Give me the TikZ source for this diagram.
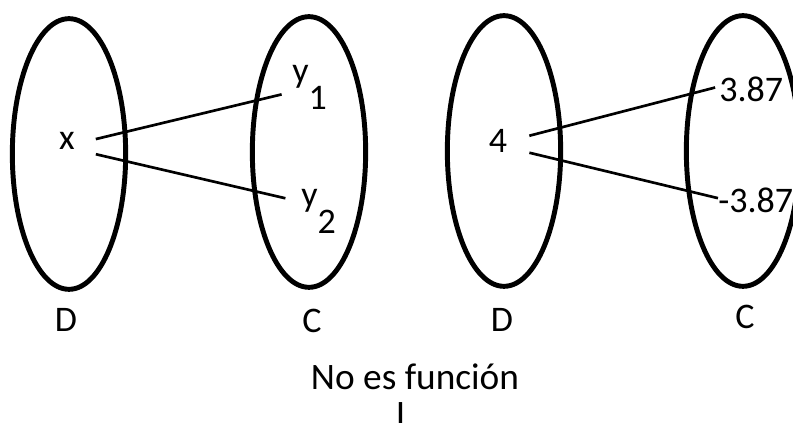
\documentclass[tikz,border=0pt]{standalone}
\usepackage{fontspec}
\setmainfont{Carlito}
\usetikzlibrary{shapes.geometric}
\newcommand\baja[1]{\raisebox{-0.75em}{#1}}
\tikzset{
  conj/.style = {draw, ellipse, line width=3.7pt, inner sep=0pt,
                 minimum width=85pt, minimum height=203pt},
  elem/.style = {inner sep=0pt, font=\fontsize{27}{32}\selectfont},
  lbl/.style  = {elem},
  ttl/.style  = {inner sep=0pt, font=\fontsize{28}{34}\selectfont},
  lnk/.style  = {line width=2pt},
}
\begin{document}
\begin{tikzpicture}[x=0.75pt,y=-0.75pt]
\useasboundingbox (0,0) rectangle (793,423);

% conjuntos
\node[conj] (D1) at (69,154) {};
\node[conj] (C1) at (309,152) {};
\node[conj] (D2) at (504,151) {};
\node[conj] (C2) at (743,151) {};

% elementos
\node[elem, anchor=base] (x) at (67,150) {x};
\node[elem, anchor=base west] (y1) at (292,83) {y\baja{1}};
\node[elem, anchor=base west] (y2) at (301,207) {y\baja{2}};
\node[elem, anchor=base] (cuatro) at (498,153) {4};
\node[elem, anchor=base west] (pos) at (719,102) {3.87};
\node[elem, anchor=base west] (neg) at (718,213) {-3.87};

% etiquetas
\node[lbl, anchor=base] (lD1) at (66,332) {D};
\node[lbl, anchor=base] (lC1) at (312,333) {C};
\node[lbl, anchor=base] (lD2) at (502,332) {D};
\node[lbl, anchor=base] (lC2) at (745,329) {C};
\node[ttl, anchor=base] (titulo) at (415,390) {No es función};
\node[ttl, anchor=base] (cursor) at (400.5,427) {I};

\draw[lnk, shorten <=16pt, shorten >=8pt] ([yshift=-2pt]x.east) -- ([yshift=-3pt]y1.west);
\draw[lnk, shorten <=16pt, shorten >=12pt] ([yshift=-6pt]x.east) -- ([yshift=7.5pt]y2.west);
\draw[lnk, shorten <=17pt, shorten >=3pt] ([yshift=0pt]cuatro.east) -- ([yshift=2.5pt]pos.west);
\draw[lnk, shorten <=17pt] ([yshift=-4.5pt]cuatro.east) -- ([yshift=2pt]neg.west);
\end{tikzpicture}
\end{document}
